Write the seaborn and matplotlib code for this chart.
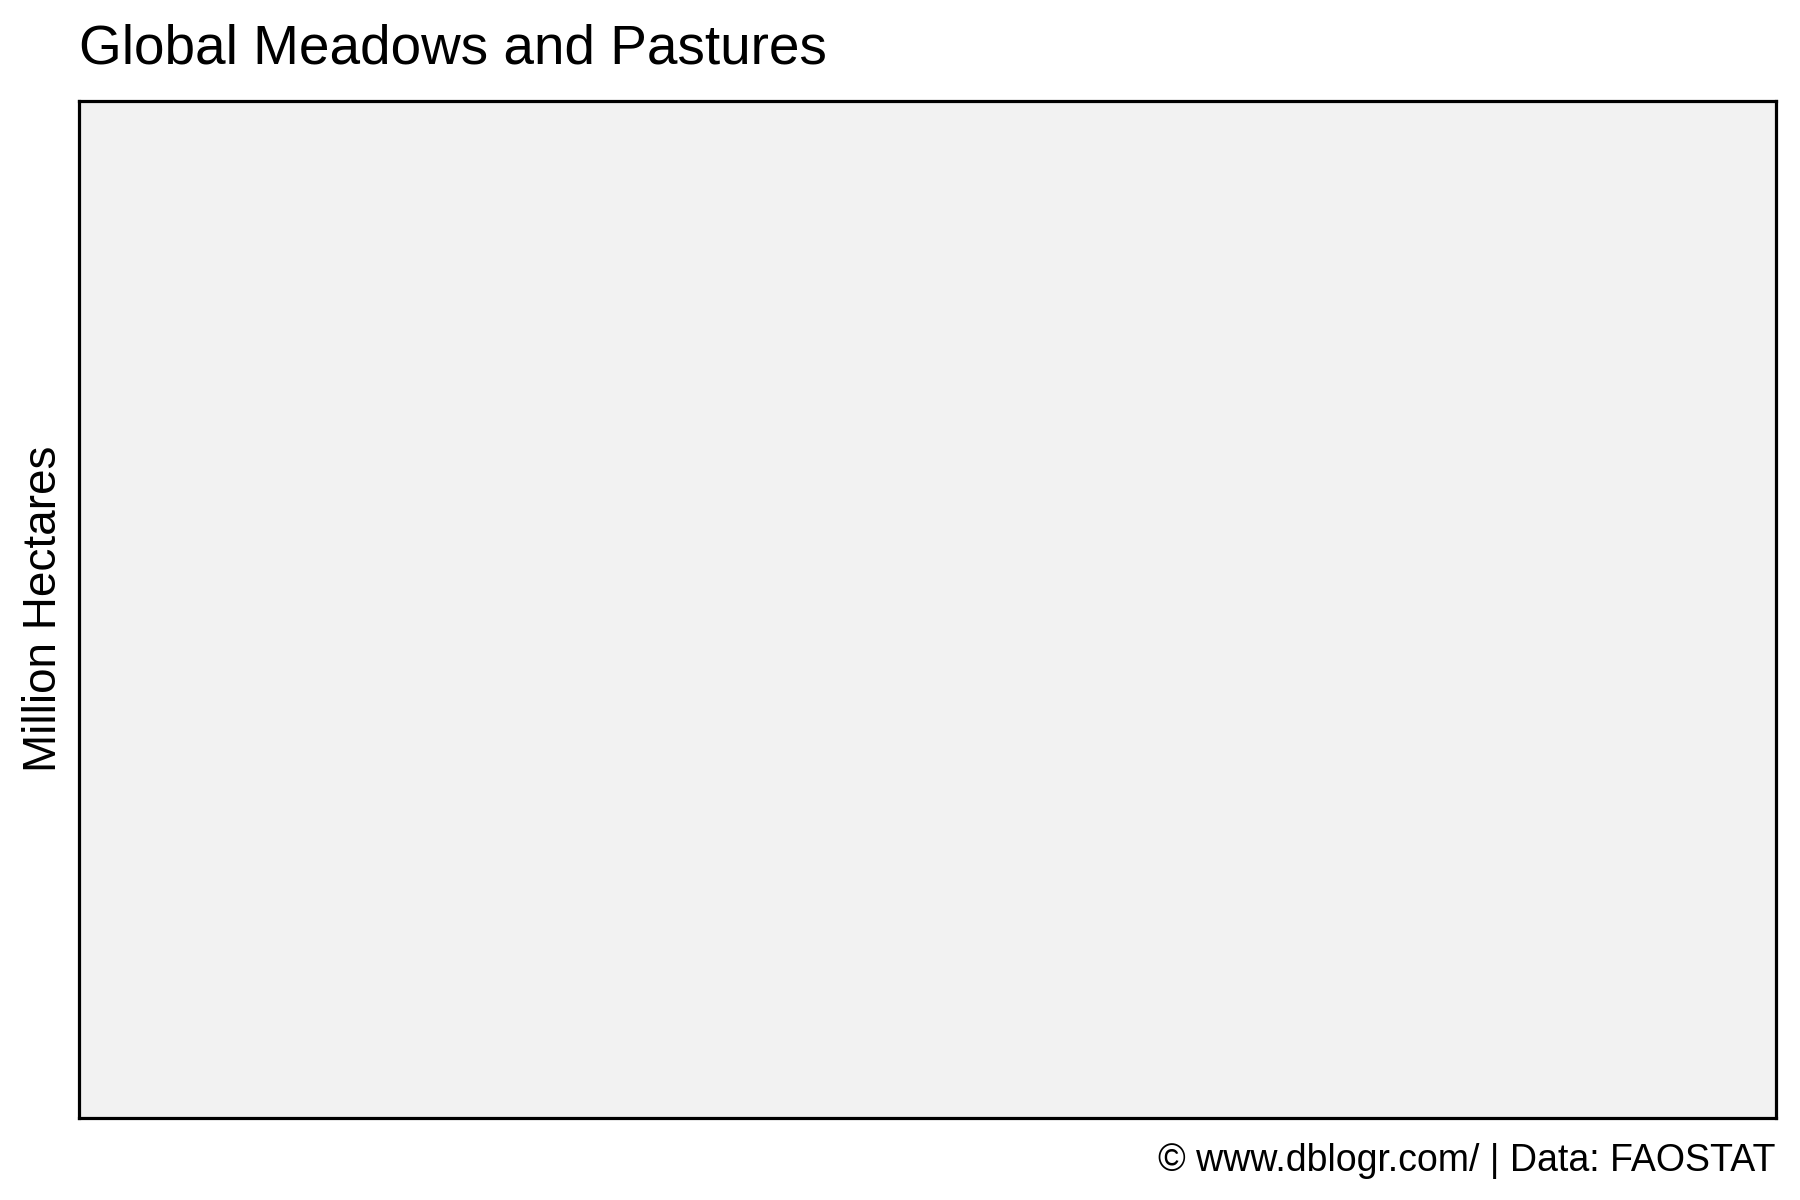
import matplotlib
matplotlib.use("Agg")
import matplotlib.pyplot as plt
import seaborn as sns

# the reference panel holds no marks: the series are empty
years = []
hectares = []

title = "Global Meadows and Pastures"
ylabel = "Million Hectares"
caption = "\u00a9 www.dblogr.com/ | Data: FAOSTAT"

sns.set_theme(style="white")
plt.rcParams["font.family"] = ["Liberation Sans", "DejaVu Sans"]
plt.rcParams["text.color"] = "black"

W, H = 1800, 1200
fig = plt.figure(figsize=(18, 12), dpi=100)
left, right, top, bottom = 79, 1776, 101, 1118
ax = fig.add_axes([left / W, 1 - bottom / H, (right - left) / W, (bottom - top) / H])
ax.set_facecolor("#F2F2F2")

if len(years):
    sns.lineplot(x=years, y=hectares, ax=ax, color="black")

ax.set_xticks([])
ax.set_yticks([])
for sp in ax.spines.values():
    sp.set_visible(True)
    sp.set_color("black")
    sp.set_linewidth(2.3)

fig.text(left / W, 1 - 64 / H, title, fontsize=39.5, ha="left", va="baseline", color="black")
fig.text(right / W, 1 - 1171 / H, caption, fontsize=27, ha="right", va="baseline", color="black")
fig.text(44 / W, 1 - 609 / H, ylabel, fontsize=33, rotation=90, ha="center", va="center", color="black")

fig.savefig("out.png", dpi=100, facecolor="white")
